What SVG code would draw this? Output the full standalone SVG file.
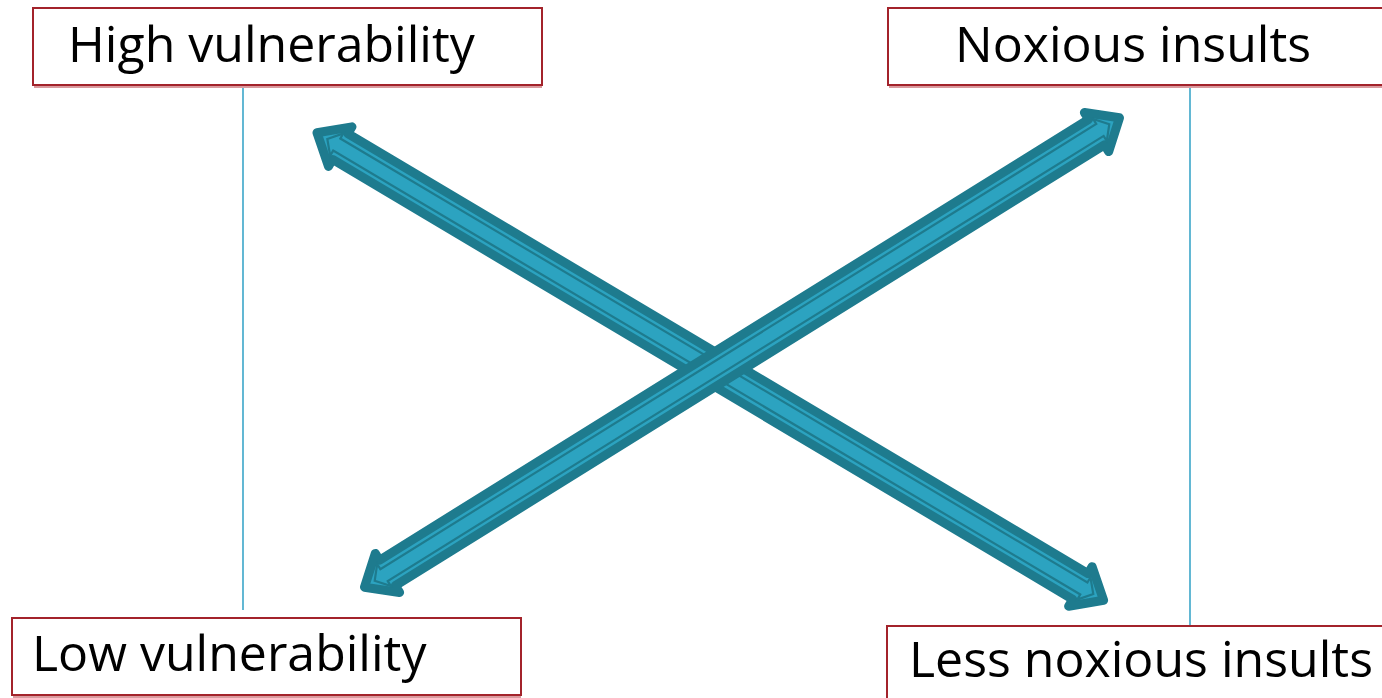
<svg xmlns="http://www.w3.org/2000/svg" width="1382" height="698" viewBox="0 0 1382 698">
  <style>
    .box { fill: #ffffff; stroke: #a3232b; stroke-width: 2; }
    .shade { stroke: #d99a9e; stroke-width: 2; fill: none; }
    .label { font-family: "Open Sans", "DejaVu Sans", sans-serif; font-size: 50px; fill: #000000; }
    .guide { stroke: #3ba6c9; stroke-width: 1.6; fill: none; }
    .arrow-outer { fill: #2ca3c0; stroke: #1e7b8e; stroke-width: 9; stroke-linejoin: round; }
    .arrow-inner { fill: none; stroke: #1e7b8e; stroke-width: 2.2; stroke-linejoin: miter; }
  </style>
  <defs>
    <!-- double-headed block arrow, tips at x=0 and x=915 -->
    <g id="dbl-arrow-a">
      <path class="arrow-outer" d="M0,0 L27,-23 L27,-15 L888,-15 L888,-23 L915,0 L888,23 L888,15 L27,15 L27,23 Z"/>
      <path class="arrow-inner" d="M12,0 L23,-13 L23,-7 L892,-7 L892,-13 L903,0 L892,13 L892,7 L23,7 L23,13 Z"/>
    </g>
    <!-- double-headed block arrow, tips at x=0 and x=889 -->
    <g id="dbl-arrow-b">
      <path class="arrow-outer" d="M0,0 L27,-23 L27,-15 L862,-15 L862,-23 L889,0 L862,23 L862,15 L27,15 L27,23 Z"/>
      <path class="arrow-inner" d="M12,0 L23,-13 L23,-7 L866,-7 L866,-13 L877,0 L866,13 L866,7 L23,7 L23,13 Z"/>
    </g>
  </defs>

  <rect width="1382" height="698" fill="#ffffff"/>

  <!-- vertical guide lines under the labels -->
  <g id="guides">
    <line class="guide" x1="243" y1="85" x2="243" y2="610"/>
    <line class="guide" x1="1190" y1="85" x2="1190" y2="626"/>
  </g>

  <g id="node-high-vulnerability">
    <line class="shade" x1="34" y1="87" x2="542" y2="87"/>
    <rect class="box" x="33" y="8" width="509" height="77"/>
    <text class="label" x="68" y="62">High vulnerability</text>
  </g>

  <g id="node-noxious-insults">
    <line class="shade" x1="889" y1="87" x2="1382" y2="87"/>
    <rect class="box" x="888" y="8" width="504" height="77"/>
    <text class="label" x="955" y="62">Noxious insults</text>
  </g>

  <g id="node-low-vulnerability">
    <line class="shade" x1="13" y1="697" x2="521" y2="697"/>
    <rect class="box" x="12" y="618" width="509" height="77"/>
    <text class="label" x="32" y="671">Low vulnerability</text>
  </g>

  <g id="node-less-noxious-insults">
    <rect class="box" x="887" y="626" width="510" height="90"/>
    <text class="label" x="909" y="677">Less noxious insults</text>
  </g>

  <!-- crossing double-headed arrows -->
  <g id="connectors">
    <use href="#dbl-arrow-a" transform="translate(317,132.8) rotate(30.72)"/>
    <use href="#dbl-arrow-b" transform="translate(364.5,587.2) rotate(-31.87)"/>
  </g>
</svg>
